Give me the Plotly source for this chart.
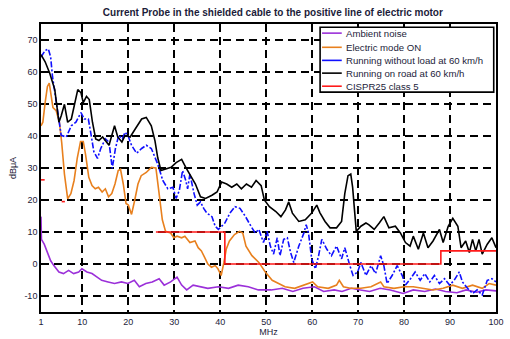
import plotly.graph_objects as go

# ---- measured spectra (frequency in MHz, level in dBuA) ----
ambient_f = [1.0, 1.1, 1.7, 2.4, 3.1, 3.8, 4.9, 5.9, 7.0, 8.1, 9.2, 9.9, 11.0, 12.1, 13.1,
             14.2, 15.6, 17.0, 18.5, 19.9, 21.3, 22.4, 23.8, 25.2, 26.7, 27.8, 29.2, 30.6,
             31.6, 32.7, 34.1, 35.6, 37.3, 39.6, 41.8, 43.9, 46.1, 48.3, 51.1, 53.5, 55.8,
             58.0, 60.5, 62.5, 64.8, 66.5, 68.5, 70.5, 72.5, 74.8, 77.0, 79.8, 82.0, 84.5,
             86.8, 89.0, 91.5, 93.5, 95.8, 97.8, 100.0]
ambient_db = [14.8, 7.7, 6.2, 3.6, 1.0, -0.5, -2.5, -3.0, -2.0, -3.0, -2.5, -1.5, -2.5, -3.0,
              -4.1, -5.1, -5.6, -6.1, -5.6, -6.1, -5.1, -7.1, -6.1, -5.6, -4.6, -6.6, -5.6,
              -4.1, -6.6, -8.1, -6.6, -7.1, -7.6, -7.1, -7.6, -6.6, -7.1, -8.1, -8.1, -7.6,
              -8.6, -7.6, -7.1, -8.6, -8.1, -8.6, -7.6, -8.1, -8.6, -7.6, -8.1, -9.2, -8.1,
              -8.6, -7.8, -8.6, -9.0, -8.1, -8.8, -8.1, -8.4]

electric_f = [1.0, 1.4, 1.9, 2.4, 2.8, 3.2, 3.6, 4.3, 5.0, 5.5, 6.1, 6.8, 7.5, 8.2, 8.9, 9.6,
              10.2, 10.7, 11.4, 12.1, 12.8, 13.5, 14.3, 15.0, 15.7, 16.4, 17.1, 17.8, 18.3,
              18.9, 19.5, 20.0, 20.7, 21.4, 22.1, 22.8, 23.9, 25.0, 26.0, 26.7, 27.4, 28.1,
              29.2, 29.9, 30.6, 31.6, 32.3, 33.4, 34.5, 35.2, 35.9, 36.6, 37.3, 38.1, 38.9,
              39.5, 40.2, 40.8, 41.3, 42.0, 43.1, 44.2, 44.9, 45.6, 46.9, 48.4, 49.8, 51.3,
              52.7, 54.1, 56.2, 58.4, 60.1, 61.2, 63.5, 65.3, 65.9, 66.8, 68.3, 70.6, 72.8,
              74.9, 75.6, 77.8, 80.0, 82.0, 84.2, 86.3, 88.5, 90.6, 92.7, 94.9, 97.0, 98.5,
              100.0]
electric_db = [43.2, 44.3, 50.4, 55.5, 56.5, 52.9, 48.9, 47.9, 44.3, 38.0, 28.1, 20.4, 22.0,
               26.1, 33.2, 38.3, 38.3, 34.2, 27.1, 24.5, 23.5, 24.0, 22.5, 23.5, 21.0, 22.0,
               25.0, 29.2, 29.6, 25.0, 18.9, 18.4, 15.5, 20.0, 25.0, 27.6, 28.6, 30.2, 30.0,
               22.0, 13.8, 10.2, 9.7, 8.2, 8.7, 8.2, 8.7, 6.7, 7.2, 5.1, 4.1, 2.1, 0.0, -1.0,
               -0.5, -1.5, -3.6, 0.5, 4.6, 7.2, 9.2, 10.2, 9.7, 5.6, 2.6, 0.5, -2.5, -5.1,
               -6.1, -7.1, -7.6, -6.6, -5.6, -7.1, -7.6, -6.6, -5.1, -7.1, -7.6, -7.6, -7.1,
               -5.6, -7.1, -7.6, -7.1, -7.1, -7.6, -8.1, -7.6, -6.6, -7.6, -6.6, -7.6, -6.1,
               -6.6]

noload_f = [1.0, 1.9, 2.6, 3.1, 3.5, 4.4, 5.4, 6.5, 7.6, 8.6, 9.7, 10.4, 11.3, 11.8, 12.5,
            13.3, 14.0, 15.0, 15.8, 16.5, 17.2, 17.9, 18.7, 19.3, 19.9, 20.7, 21.8, 22.9,
            23.9, 25.0, 26.4, 27.5, 28.6, 29.7, 30.4, 31.1, 31.8, 32.5, 32.9, 33.4, 34.3,
            35.0, 35.7, 36.4, 37.1, 38.2, 38.9, 39.6, 40.3, 41.0, 42.1, 43.2, 44.3, 45.5,
            46.8, 47.6, 48.4, 49.4, 50.2, 50.9, 51.6, 52.4, 53.0, 53.8, 54.6, 55.3, 56.0,
            57.1, 58.2, 58.7, 59.2, 59.9, 60.7, 61.4, 62.1, 63.2, 64.2, 65.3, 66.4, 67.1,
            68.2, 68.9, 69.9, 70.6, 71.7, 72.8, 73.8, 74.9, 75.6, 76.3, 77.4, 78.5, 79.6,
            80.3, 81.4, 82.4, 83.5, 84.5, 85.6, 86.6, 87.7, 88.8, 89.9, 90.9, 92.0, 92.7,
            93.8, 94.9, 95.9, 97.0, 98.1, 99.1, 100.0]
noload_db = [64.7, 66.7, 67.2, 64.7, 58.6, 49.4, 40.2, 39.7, 43.2, 44.3, 47.3, 45.3, 45.3,
             41.2, 35.1, 33.0, 36.1, 39.1, 38.1, 29.9, 36.1, 40.2, 39.1, 41.2, 40.2, 37.1,
             34.6, 36.1, 37.1, 36.1, 31.2, 26.1, 23.5, 24.0, 20.5, 23.0, 29.2, 26.1, 23.5,
             28.1, 22.0, 18.4, 19.4, 17.4, 15.9, 14.8, 11.8, 10.8, 11.8, 12.8, 15.9, 17.9,
             17.4, 14.8, 11.5, 9.7, 10.8, 6.7, 10.2, 5.6, 3.1, 8.2, 2.6, 7.7, 8.2, 3.6, 0.5,
             5.6, 9.7, 12.3, 9.7, 1.6, -1.5, 2.6, 7.7, 4.6, 2.6, 5.6, 1.6, 5.1, -0.5, -3.6,
             -2.5, 0.5, -3.6, -0.5, -3.0, 2.6, -0.5, -6.1, -3.6, -0.5, -3.6, -6.6, -4.6,
             -2.5, -5.1, -3.0, -5.6, -3.6, -6.1, -4.6, -6.6, -5.1, -2.5, -5.6, -7.6, -9.2,
             -8.1, -9.7, -5.1, -4.6, -5.6]

road_f = [1.0, 1.9, 2.9, 4.0, 4.9, 5.4, 6.1, 6.8, 7.6, 9.0, 9.7, 10.2, 10.9, 11.5, 12.2,
          12.9, 13.6, 14.4, 15.8, 17.0, 17.7, 18.6, 19.3, 20.4, 21.5, 22.9, 23.9, 25.0, 25.8,
          26.4, 27.1, 28.2, 29.3, 30.4, 31.6, 32.5, 33.6, 34.6, 35.7, 36.8, 38.2, 39.3, 40.3,
          41.4, 42.5, 43.6, 44.6, 45.7, 46.8, 47.8, 48.9, 49.6, 50.7, 52.1, 53.2, 54.2, 54.9,
          55.7, 57.1, 58.5, 59.9, 61.0, 61.7, 62.8, 63.9, 65.3, 66.4, 67.1, 67.8, 68.4, 68.8,
          69.6, 70.6, 71.7, 72.3, 73.5, 74.6, 75.6, 76.7, 78.1, 79.2, 80.3, 81.3, 82.0, 83.1,
          84.2, 85.2, 86.3, 87.7, 88.5, 89.6, 90.6, 91.7, 92.4, 93.4, 94.2, 94.9, 95.6, 96.3,
          97.0, 98.1, 99.1, 100.0]
road_db = [65.4, 63.2, 59.6, 54.5, 44.3, 46.3, 49.9, 44.3, 45.3, 54.5, 53.5, 50.4, 52.4,
           51.4, 44.3, 39.1, 38.6, 39.7, 37.1, 43.2, 39.7, 38.1, 40.2, 39.7, 42.2, 45.3, 45.8,
           43.2, 38.5, 33.2, 29.2, 29.7, 30.2, 31.7, 32.7, 30.2, 27.6, 25.0, 21.0, 20.5, 21.5,
           22.5, 25.6, 25.0, 24.0, 25.0, 23.5, 25.0, 24.0, 26.1, 24.5, 20.0, 17.9, 16.4, 14.8,
           16.9, 19.4, 15.9, 13.3, 13.8, 15.9, 18.4, 16.0, 13.3, 11.3, 11.3, 13.3, 22.0, 27.6,
           28.1, 24.0, 10.2, 11.8, 12.8, 12.3, 10.8, 12.8, 14.8, 11.3, 11.8, 9.7, 6.7, 5.6,
           8.7, 4.6, 9.7, 5.1, 7.2, 10.8, 6.7, 11.8, 14.3, 11.8, 5.1, 7.2, 3.6, 7.7, 4.1, 7.7,
           3.1, 6.2, 8.2, 5.1]

# CISPR 25 class 5 limit segments (None separates the bands)
limit_f = [1.0, 1.8, None, 5.5, 6.2, None, 26.0, 41.0, 41.0, 88.0, 88.0, 100.0]
limit_db = [26.3, 26.3, None, 19.5, 19.5, None, 10.0, 10.0, 0.0, 0.0, 4.1, 4.1]

x_ticks = [1, 10, 20, 30, 40, 50, 60, 70, 80, 90, 100]
y_ticks = [-10, 0, 10, 20, 30, 40, 50, 60, 70]

series = [
    ("Ambient noise", ambient_f, ambient_db, "#9b30d9", "solid"),
    ("Electric mode ON", electric_f, electric_db, "#e8801e", "solid"),
    ("Running without load at 60 km/h", noload_f, noload_db, "#1010ff", "6px,2px,2px,2px"),
    ("Running on road at 60 km/h", road_f, road_db, "#000000", "solid"),
    ("CISPR25 class 5", limit_f, limit_db, "#ff1a1a", "solid"),
]

fig = go.Figure()
for name, fx, fy, color, dash in series:
    fig.add_trace(go.Scatter(
        x=fx, y=fy, name=name, mode="lines",
        line=dict(color=color, width=1.6, dash=dash),
        connectgaps=False, showlegend=False,
    ))

text_color = "#1c1c3a"
font_family = "Liberation Sans, Arial, sans-serif"

# Legend box drawn in plot-area coordinates
shapes = [dict(type="rect", xref="paper", yref="paper",
               x0=0.6134, x1=0.995, y0=0.7635, y1=0.9887,
               line=dict(color="black", width=1.6), fillcolor="white", layer="above")]
annotations = []
row_y = [0.9683, 0.9191, 0.8737, 0.8294, 0.784]
for (name, _, _, color, _), yy in zip(series, row_y):
    shapes.append(dict(type="line", xref="paper", yref="paper",
                       x0=0.6177, x1=0.661, y0=yy, y1=yy,
                       line=dict(color=color, width=1.6), layer="above"))
    annotations.append(dict(xref="paper", yref="paper", x=0.665, y=yy,
                            xanchor="left", yanchor="middle", showarrow=False,
                            text=name, font=dict(size=9.6, color=text_color, family=font_family)))

axis_common = dict(
    showgrid=True, gridcolor="black", gridwidth=1.5, griddash="8px,5px",
    showline=True, linecolor="black", linewidth=1.6, mirror=True,
    zeroline=False, ticks="", tickfont=dict(size=9, color=text_color, family=font_family),
)

fig.update_layout(
    width=510, height=339,
    margin=dict(l=41, r=6, t=24, b=22),
    paper_bgcolor="white", plot_bgcolor="white",
    title=dict(text="<b>Current Probe in the shielded cable to the positive line of electric motor</b>",
               x=0.535, xanchor="center", y=0.962, yanchor="middle",
               font=dict(size=10, color=text_color, family=font_family)),
    xaxis=dict(range=[1, 100], tickvals=x_ticks, ticktext=[str(v) for v in x_ticks],
               title=dict(text="MHz", standoff=0, font=dict(size=9, color=text_color, family=font_family)),
               **axis_common),
    yaxis=dict(range=[-15, 75], tickvals=y_ticks, ticktext=[str(v) for v in y_ticks],
               title=dict(text="dBμA", standoff=6, font=dict(size=9, color=text_color, family=font_family)),
               **axis_common),
    shapes=shapes, annotations=annotations,
    showlegend=False,
)

fig.write_html("out.html")
